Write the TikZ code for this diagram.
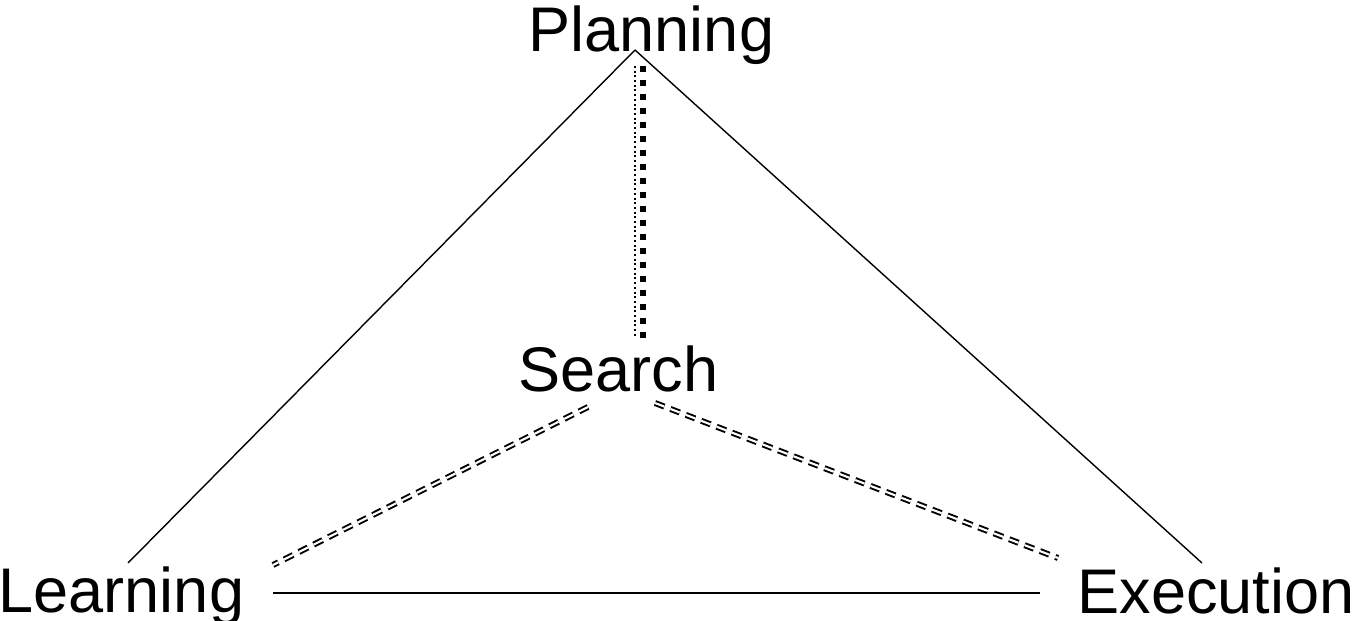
\documentclass[tikz,border=0pt]{standalone}
\usepackage{fontspec}
\setmainfont{Liberation Sans}
\usepackage{tikz}

\begin{document}
\begin{tikzpicture}[x=0.02cm,y=-0.02cm,thick]
      \tikzstyle{every node}=[inner sep=0,anchor=base west,font=\fontsize{35.9}{40}\selectfont]
      \tikzstyle{side}=[line width=0.8pt]
      \tikzstyle{link}=[double,line width=1.1pt,double distance=1.2pt,dash pattern=on 0.2cm off 0.13cm]
      \tikzstyle{dotline}=[line width=0.8pt,dash pattern=on 0.04cm off 0.054cm]
      \tikzstyle{boxline}=[line width=3.2pt,dash pattern=on 0.12cm off 0.16cm]
      \useasboundingbox (0,0) rectangle (1356,621);
      % 
      \node (plan)   at (528,52)  {Planning};
      \node (search) at (518,392) {Search};
      \node (learn)  at (-2,612)  {Learning};
      \node (exec)   at (1077,613) {Execution};
      % 
      \coordinate (top)   at (635,50);
      \coordinate (tl)    at (128,563);
      \coordinate (tr)    at (1202,563);
      \coordinate (bl)    at (273,593);
      \coordinate (br)    at (1040,593);
      \coordinate (dtop)  at (635,66);
      \coordinate (dbot)  at (635,338);
      \coordinate (btop)  at (643,66);
      \coordinate (bbot)  at (643,338);
      \coordinate (sl)    at (588,407);
      \coordinate (ll)    at (273,565);
      \coordinate (sr)    at (655,403);
      \coordinate (er)    at (1058,558);
      % 
      \path[side]
      (top)  edge []       (tl)
      (top)  edge []       (tr)
      (bl)   edge []       (br);
      \path
      (dtop) edge [dotline] (dbot)
      (btop) edge [boxline] (bbot)
      (sl)   edge [link]    (ll)
      (sr)   edge [link]    (er);
    \end{tikzpicture}
\end{document}
